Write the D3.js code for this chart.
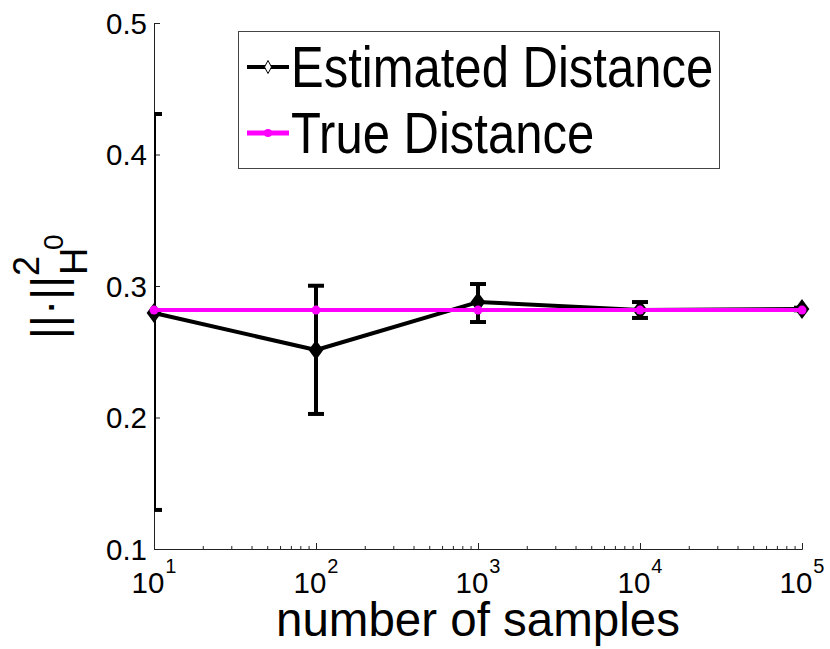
<!DOCTYPE html>
<html>
<head>
<meta charset="utf-8">
<script src="https://cdn.jsdelivr.net/npm/d3@7"></script>
<style>
  body { margin: 0; background: #fff; }
  text { font-family: "Liberation Sans", Arial, Helvetica, sans-serif; fill: #000; }
</style>
</head>
<body>
<div id="chart"></div>
<script>
// Data
const samples = [10, 100, 1000, 10000, 100000];
const estimated = [0.2795, 0.2513, 0.2878, 0.2818, 0.2825];
const errLow = [0.1297, 0.2027, 0.2726, 0.2757, 0.2815];
const errHigh = [0.4308, 0.3002, 0.3015, 0.2878, 0.2835];
const trueDist = [0.2817, 0.2817, 0.2817, 0.2817, 0.2817];
const yTicks = [0.1, 0.2, 0.3, 0.4, 0.5];
const xExponents = [1, 2, 3, 4, 5];
const seriesNames = ["Estimated Distance", "True Distance"];

const svgWidth = 830;
const svgHeight = 649;
const margin = { top: 23, right: 28, bottom: 100, left: 154 };
const width = svgWidth - margin.left - margin.right;
const height = svgHeight - margin.top - margin.bottom;

const svg = d3.select("#chart")
    .append("svg")
    .attr("width", svgWidth)
    .attr("height", svgHeight);

const chartGroup = svg.append("g")
    .attr("transform", `translate(${margin.left}, ${margin.top})`);

// Scales
const xScale = d3.scaleLog()
    .domain([10, 100000])
    .range([0, width]);

const yScale = d3.scaleLinear()
    .domain([0.1, 0.5])
    .range([height, 0]);

// Axes (ticks point inward like MATLAB)
const minorTicks = xScale.ticks().filter(v => !xExponents.some(e => Math.abs(v - Math.pow(10, e)) < 1e-6));

chartGroup.append("g")
    .attr("transform", `translate(0, ${height})`)
    .call(d3.axisBottom(xScale).tickValues(minorTicks).tickSize(-3).tickSizeOuter(0).tickFormat(""));

chartGroup.append("g")
    .attr("transform", `translate(0, ${height})`)
    .call(d3.axisBottom(xScale)
        .tickValues(xExponents.map(e => Math.pow(10, e)))
        .tickSize(-6).tickSizeOuter(0).tickFormat(""));

const yAxis = chartGroup.append("g")
    .call(d3.axisLeft(yScale)
        .tickValues(yTicks)
        .tickSize(-6).tickSizeOuter(0).tickPadding(7)
        .tickFormat(d3.format(".1f")));

yAxis.selectAll("text")
    .attr("font-size", "29.5px")
    .attr("dy", "0.35em")
    .style("font-family", "'Liberation Sans', Arial, sans-serif");

chartGroup.selectAll(".domain, .tick line")
    .attr("stroke", "#222")
    .attr("stroke-width", 1);

// x tick labels: 10 with superscript exponent
const xLabels = chartGroup.append("g");
xExponents.forEach(e => {
    const t = xLabels.append("text")
        .attr("x", xScale(Math.pow(10, e)))
        .attr("y", height + 44)
        .attr("text-anchor", "middle")
        .attr("font-size", "29.5px");
    t.append("tspan").text("10");
    t.append("tspan").attr("dx", 1).attr("dy", -20).attr("font-size", "20px").text(e);
});

// Axis titles
chartGroup.append("text")
    .attr("x", xScale(Math.pow(10, 3)))
    .attr("y", height + 87)
    .attr("text-anchor", "middle")
    .attr("font-size", "47.5px")
    .text("number of samples");

const yTitle = svg.append("g")
    .attr("transform", "translate(64, 339) rotate(-90)");
yTitle.append("text").attr("x", 0).attr("y", 0).attr("font-size", "46px").text("||\u00b7||");
yTitle.append("text").attr("x", 63).attr("y", -25).attr("font-size", "36px").text("2");
yTitle.append("text").attr("x", 64).attr("y", 23).attr("font-size", "38px").text("H");
yTitle.append("text").attr("x", 89).attr("y", -1).attr("font-size", "28px").text("0");

// Clip for error bars
svg.append("defs").append("clipPath")
    .attr("id", "plot-clip")
    .append("rect")
    .attr("width", width)
    .attr("height", height);

const estData = samples.map((s, i) => ({ x: s, y: estimated[i], lo: errLow[i], hi: errHigh[i] }));
const trueData = samples.map((s, i) => ({ x: s, y: trueDist[i] }));

const line = d3.line()
    .x(d => xScale(d.x))
    .y(d => yScale(d.y));

// Estimated series
chartGroup.append("path")
    .datum(estData)
    .attr("d", line)
    .attr("fill", "none")
    .attr("stroke", "#000")
    .attr("stroke-width", 4)
    .attr("stroke-linejoin", "round");

const errGroup = chartGroup.append("g").attr("clip-path", "url(#plot-clip)");
const capHalf = 8;
estData.forEach(d => {
    const cx = xScale(d.x);
    errGroup.append("line")
        .attr("x1", cx).attr("x2", cx)
        .attr("y1", yScale(d.lo)).attr("y2", yScale(d.hi))
        .attr("stroke", "#000").attr("stroke-width", 4);
    [d.lo, d.hi].forEach(v => {
        errGroup.append("line")
            .attr("x1", cx - capHalf).attr("x2", cx + capHalf)
            .attr("y1", yScale(v)).attr("y2", yScale(v))
            .attr("stroke", "#000").attr("stroke-width", 4);
    });
});

const diamond = (cx, cy, w, h) => `M${cx},${cy - h}L${cx + w},${cy}L${cx},${cy + h}L${cx - w},${cy}Z`;

chartGroup.selectAll(".est-marker")
    .data(estData)
    .enter()
    .append("path")
    .attr("class", "est-marker")
    .attr("d", d => diamond(xScale(d.x), yScale(d.y), 5.5, 7.5))
    .attr("fill", "#000")
    .attr("stroke", "#000")
    .attr("stroke-width", 3);

// True series
chartGroup.append("path")
    .datum(trueData)
    .attr("d", line)
    .attr("fill", "none")
    .attr("stroke", "#ff00ff")
    .attr("stroke-width", 4);

chartGroup.selectAll(".true-marker")
    .data(trueData)
    .enter()
    .append("circle")
    .attr("class", "true-marker")
    .attr("cx", d => xScale(d.x))
    .attr("cy", d => yScale(d.y))
    .attr("r", 4.5)
    .attr("fill", "#ff00ff");

// Legend
const legend = svg.append("g");
legend.append("rect")
    .attr("x", 238.5).attr("y", 31.5)
    .attr("width", 481).attr("height", 137)
    .attr("fill", "#fff")
    .attr("stroke", "#444")
    .attr("stroke-width", 1);

const rowY = [67, 133];
legend.append("line")
    .attr("x1", 247).attr("x2", 289).attr("y1", rowY[0]).attr("y2", rowY[0])
    .attr("stroke", "#000").attr("stroke-width", 4);
legend.append("path")
    .attr("d", diamond(268, rowY[0], 3.5, 6.5))
    .attr("fill", "#fff").attr("stroke", "#000").attr("stroke-width", 1);
legend.append("line")
    .attr("x1", 247).attr("x2", 289).attr("y1", rowY[1]).attr("y2", rowY[1])
    .attr("stroke", "#ff00ff").attr("stroke-width", 5);
legend.append("circle")
    .attr("cx", 268).attr("cy", rowY[1]).attr("r", 4)
    .attr("fill", "#ff00ff");

seriesNames.forEach((name, i) => {
    legend.append("text")
        .attr("transform", `translate(291, ${rowY[i] + 20}) scale(0.86, 1)`)
        .attr("font-size", "57px")
        .text(name);
});
</script>
</body>
</html>
